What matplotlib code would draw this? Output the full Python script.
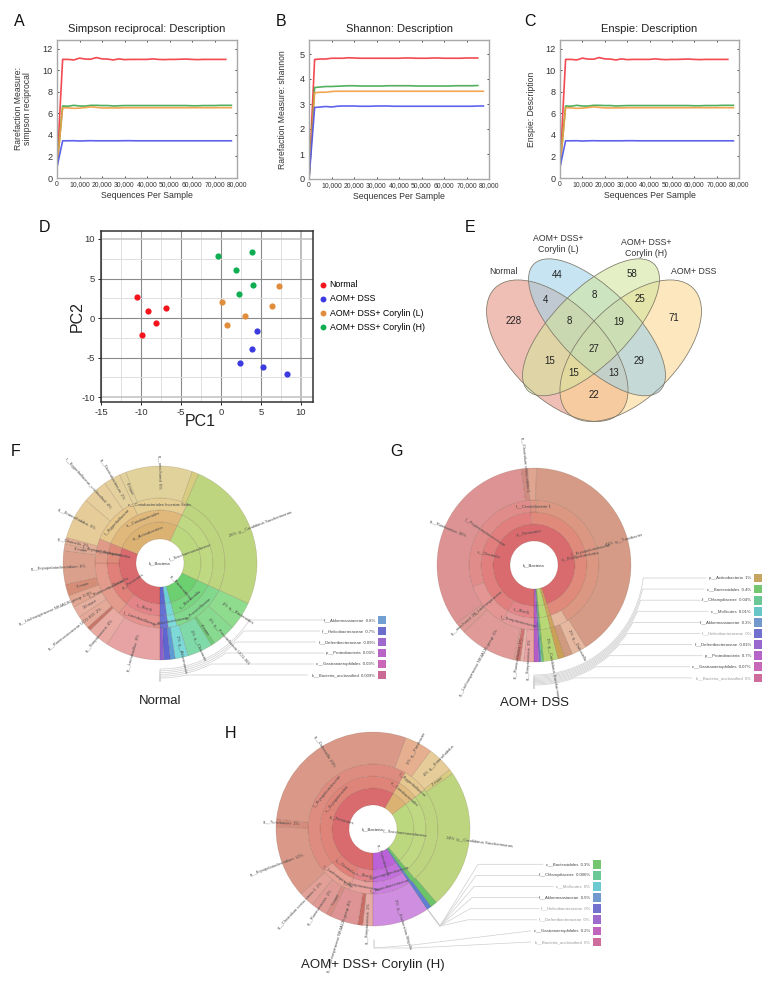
import numpy as np
import matplotlib
matplotlib.use('Agg')
import matplotlib.pyplot as plt
from matplotlib.patches import Ellipse, Rectangle

plt.rcParams['font.family'] = ['Liberation Sans', 'DejaVu Sans']
plt.rcParams['axes.unicode_minus'] = False

W, H = 778, 981

# Rarefaction curves (panels A, B, C)
DEPTH = [0, 2500, 5000, 7500, 10000, 12500, 15000, 17500, 20000, 22500, 25000, 27500, 30000, 32500, 35000, 37500,
         40000, 42500, 45000, 47500, 50000, 52500, 55000, 57500, 60000, 62500, 65000, 67500, 70000, 72500, 75000, 77500]
SIMPSON_NORMAL = [1.0, 11.0, 11.0, 10.95, 11.12, 11.03, 11.02, 11.17, 11.05, 11.03, 10.95, 11.05, 10.98, 11.0, 11.0, 11.0,
                  11.0, 11.05, 11.0, 10.98, 11.0, 11.0, 11.02, 11.03, 11.0, 10.98, 11.0, 11.0, 11.0, 11.0, 11.0]
SIMPSON_COR_H = [1.0, 6.68, 6.66, 6.74, 6.68, 6.67, 6.74, 6.74, 6.72, 6.72, 6.68, 6.7, 6.72, 6.72, 6.72, 6.72,
                 6.72, 6.72, 6.72, 6.72, 6.72, 6.72, 6.72, 6.72, 6.7, 6.7, 6.72, 6.72, 6.72, 6.74, 6.74, 6.74]
SIMPSON_COR_L = [1.0, 6.52, 6.5, 6.46, 6.48, 6.53, 6.6, 6.55, 6.5, 6.5, 6.5, 6.5, 6.52, 6.52, 6.52, 6.52,
                 6.52, 6.52, 6.52, 6.52, 6.52, 6.52, 6.52, 6.52, 6.52, 6.52, 6.52, 6.52, 6.52, 6.52, 6.52, 6.52]
SIMPSON_DSS = [1.0, 3.45, 3.45, 3.46, 3.43, 3.45, 3.46, 3.45, 3.45, 3.45, 3.45, 3.45, 3.46, 3.46, 3.45, 3.45,
               3.45, 3.45, 3.45, 3.45, 3.45, 3.45, 3.45, 3.45, 3.45, 3.45, 3.45, 3.45, 3.45, 3.45, 3.45, 3.45]
SHANNON_NORMAL = [0.0, 4.78, 4.8, 4.8, 4.83, 4.83, 4.83, 4.85, 4.84, 4.83, 4.83, 4.83, 4.83, 4.83, 4.83, 4.83,
                  4.83, 4.84, 4.84, 4.83, 4.83, 4.83, 4.84, 4.84, 4.83, 4.83, 4.83, 4.83, 4.84, 4.84, 4.84]
SHANNON_COR_H = [0.0, 3.66, 3.68, 3.7, 3.7, 3.71, 3.72, 3.73, 3.73, 3.72, 3.72, 3.72, 3.72, 3.72, 3.73, 3.73,
                 3.73, 3.73, 3.73, 3.72, 3.72, 3.72, 3.72, 3.72, 3.72, 3.72, 3.73, 3.73, 3.73, 3.73, 3.74]
SHANNON_COR_L = [0.0, 3.45, 3.47, 3.47, 3.5, 3.51, 3.51, 3.51, 3.51, 3.51, 3.51, 3.51, 3.51, 3.51, 3.51, 3.51,
                 3.51, 3.51, 3.51, 3.51, 3.51, 3.51, 3.51, 3.51, 3.51, 3.51, 3.51, 3.51, 3.51, 3.51, 3.51, 3.51]
SHANNON_DSS = [0.0, 2.86, 2.88, 2.9, 2.88, 2.91, 2.92, 2.92, 2.92, 2.91, 2.91, 2.91, 2.92, 2.92, 2.92, 2.91,
               2.91, 2.91, 2.91, 2.91, 2.91, 2.91, 2.91, 2.91, 2.91, 2.91, 2.91, 2.91, 2.91, 2.91, 2.92, 2.92]
# panel C reads the same as panel A
ENSPIE_NORMAL = SIMPSON_NORMAL
ENSPIE_COR_H = SIMPSON_COR_H
ENSPIE_COR_L = SIMPSON_COR_L
ENSPIE_DSS = SIMPSON_DSS

LINE_COLORS = ['#f2363e', '#3fa64c', '#f09c3e', '#4c52ea']

# PCA (panel D)
GROUPS = ['Normal', 'AOM+ DSS', 'AOM+ DSS+ Corylin (L)', 'AOM+ DSS+ Corylin (H)']
GROUP_COLORS = ['#f5141c', '#3b3be0', '#e08d3e', '#0fae52']
PC1 = [[-10.46, -9.16, -6.82, -8.16, -9.83],
       [4.48, 3.85, 2.43, 5.19, 8.24],
       [7.2, 6.32, 0.13, 3.05, 0.79],
       [3.89, -0.38, 1.88, 3.97, 2.22]]
PC2 = [[2.69, 0.92, 1.3, -0.63, -2.1],
       [-1.64, -3.9, -5.71, -6.13, -7.1],
       [4.08, 1.47, 1.97, 0.29, -0.92],
       [8.4, 7.86, 6.09, 4.12, 3.03]]

# Venn counts (panel E)
VENN_COUNTS = [228, 44, 58, 71, 4, 8, 25, 8, 19, 15, 27, 29, 15, 13, 22]
VENN_XY = [(514, 321), (557, 275), (632, 274), (674, 318), (546, 300), (594, 295), (640, 299), (569, 321),
           (619, 322), (550, 361), (594, 349), (639, 361), (574, 373), (614, 373), (594, 395)]

# Krona F (shares in % of the circle, clockwise from 6 o'clock)
F_GENUS = ['g__Lactobacillus  9%', 'g__Streptococcus  4%', '', 'g__Ruminococcaceae UCG-013  2%', '10 more',
           'g__Lachnospiraceae NK4A136 group  0.9%', '3 more', 'g__Erysipelatoclostridium  6%', '8 more',
           'g__Olsenella  2%', 'g__Enterorhabdus  6%', 'f__Eggerthellaceae_unclassified  4%',
           'g__Denitrobacterium  2%', '4 more', 'g__uncultured  6%', '', '26%  g__Candidatus Saccharimonas',
           '4%  g__Bacteroides', '3%  g__Prevotellaceae UCG-001', '4 more', '3%  g__Chaoacter',
           '2%  g__Akkermansia', '', '', '']
F_GENUS_SHARE = [9.2, 3.6, 0.6, 2.2, 1.9, 2.0, 1.9, 5.6, 1.1, 1.1, 6.9, 4.2, 2.8, 1.1, 11.1, 1.1, 25.3, 4.7, 3.9,
                 0.6, 4.2, 2.2, 0.8, 1.1, 0.6]
F_GENUS_COLOR = ['#e7a3a3', '#e8aaa2', '#c9776b', '#e5a99a', '#e6ae9f', '#e2a692', '#d48d77', '#dba08c', '#e0a995',
                 '#e3ae96', '#e6cc98', '#e6cf9c', '#e4d09c', '#e2d19c', '#e0d29a', '#d8cc80', '#bdd57f', '#8fdc8e',
                 '#88da90', '#6ecb78', '#80d9a8', '#7dd8d8', '#5e9cd6', '#5f66d0', '#8f60cc']
F_RING1 = ['p__Firmicutes', 'p__Actinobacteria', 'f__Saccharimonadaceae', 'p__Bacteroidetes', '', '']
F_RING1_SHARE = [31.1, 25.8, 25.0, 13.9, 2.2, 2.0]
F_RING1_COLOR = ['#d96a6e', '#dcb273', '#bcd87e', '#6ccf70', '#6dd0d4', '#5c68cf']
F_RING2 = ['c__Bacilli', 'c__Clostridia', 'c__Erysipelotrichia', 'o__Coriobacteriales', '', 'c__Bacteroidia', '', '']
F_RING2_SHARE = [11.0, 14.0, 6.1, 25.8, 25.0, 13.9, 2.2, 2.0]
F_RING2_COLOR = ['#e38588', '#e08078', '#de8a78', '#e0b87c', '#bfd983', '#78d580', '#78d6d8', '#6470d2']
F_RING3 = ['f__Lactobacillaceae', 'f__Ruminococcaceae', 'f__Erysipelotrichaceae', 'f__Eggerthellaceae',
           'c__Coriobacteriales Incertae Sedis', '', 'f__Prevotellaceae', 'f__Akkermansiaceae', '']
F_RING3_SHARE = [11.0, 14.0, 6.1, 12.0, 13.8, 25.0, 13.9, 2.2, 2.0]
F_RING3_COLOR = ['#e6938f', '#e39b8b', '#e09a88', '#e6c78c', '#e4ce94', '#bdd57f', '#82d98e', '#7fdada', '#6a74d4']
F_LEGEND = ['f__Akkermansiaceae  0.8%', 'f__Helicobacteraceae  0.7%', 'f__Deferribacteraceae  0.09%',
            'p__Proteobacteria  0.03%', 'c__Gastranaerophilales  0.03%', 'k__Bacteria_unclassified  0.009%']
F_LEGEND_COLOR = ['#6a9bd1', '#6466cc', '#9a62cc', '#b65cc4', '#c75fb4', '#c9618f']

# Krona G
G_GENUS = ['g__Streptococcus  3%', '', 'g__Ruminococcus  1%', '', 'g__Lachnospiraceae NK4A136 group  3%',
           'g__uncultured  2%', 'g__Romboutsia  36%', 'g__Clostridium sensu stricto 1', '',
           '41%  g__Turicibacter', '2%  g__Dubosiella', '', '', '3%  g__Candidatus Saccharimonas', '', '', '', '']
G_GENUS_SHARE = [1.7, 0.6, 0.8, 0.3, 9.5, 1.9, 33.3, 1.1, 1.4, 40.8, 2.5, 1.4, 1.1, 2.4, 0.3, 0.2, 0.3, 0.8]
G_GENUS_COLOR = ['#e8a3a3', '#e9b3ad', '#cf7670', '#e2a09a', '#e09a98', '#dd9a94', '#dd9393', '#d08a80', '#e0a590',
                 '#d59b86', '#e6b8a0', '#cf9a80', '#c9a055', '#b5d672', '#6cc468', '#62c4c4', '#6a6acc', '#b45cc9']
G_RING1 = ['p__Firmicutes', '', '', '', '', '', '']
G_RING1_SHARE = [95.3, 1.1, 2.4, 0.3, 0.2, 0.3, 0.8]
G_RING1_COLOR = ['#d96a6e', '#c9a055', '#b5d672', '#6cc468', '#62c4c4', '#6a6acc', '#b45cc9']
G_RING2 = ['c__Bacilli', 'c__Clostridia', 'o__Erysipelotrichales', '', '', '', '', '', '']
G_RING2_SHARE = [8.3, 41.0, 46.0, 1.1, 2.4, 0.3, 0.2, 0.3, 0.8]
G_RING2_COLOR = ['#e2868a', '#e07f7d', '#df8a7a', '#cca45c', '#b8d876', '#6cc468', '#62c4c4', '#6a6acc', '#b45cc9']
G_RING3 = ['f__Streptococcaceae', 'f__Lachnospiraceae', 'f__Peptostreptococcaceae', 'f__Clostridiaceae 1',
           'f__Erysipelotrichaceae', '', '', '', '', '', '', '']
G_RING3_SHARE = [8.3, 11.4, 29.6, 1.5, 41.0, 3.5, 1.1, 2.4, 0.3, 0.2, 0.3, 0.8]
G_RING3_COLOR = ['#e49a9a', '#e39694', '#e08c8a', '#dc9484', '#dc9782', '#e6b8a0', '#cca45c', '#b8d876', '#6cc468',
                 '#62c4c4', '#6a6acc', '#b45cc9']
G_LEGEND = ['p__Actinobacteria  1%', 'c__Bacteroidales  0.4%', 'f__Chlamydiaceae  0.04%', 'c__Mollicutes  0.01%',
            'f__Akkermansiaceae  0.3%', 'f__Helicobacteraceae  0%', 'f__Deferribacteraceae  0.01%',
            'p__Proteobacteria  0.7%', 'c__Gastranaerophilales  0.07%', 'k__Bacteria_unclassified  0%']
G_LEGEND_COLOR = ['#c4a058', '#6cc468', '#62c490', '#62c4c4', '#6a94cc', '#6a6acc', '#9460cc', '#b25cc8', '#c460b4',
                  '#cc6498']

# Krona H
H_GENUS = ['g__Streptococcus  1%', '', 'g__Lachnospiraceae NK4A136 group  4%', '7 more', 'g__Ruminococcus  2%',
           'g__Clostridium sensu stricto 1  2%', 'g__Erysipelatoclostridium  12%', 'g__Turicibacter  1%',
           'g__Dubosiella  29%', '5%  g__Parvibacter', '4%  g__Enterorhabdus', '2 more',
           '24%  g__Candidatus Saccharimonas', '', '', '9%  g__Escherichia-Shigella']
H_GENUS_SHARE = [1.7, 0.8, 4.7, 0.8, 2.8, 2.5, 11.9, 1.4, 28.8, 4.6, 4.4, 0.8, 23.3, 1.1, 0.8, 9.4]
H_GENUS_COLOR = ['#e6aca6', '#c96e66', '#de9494', '#d88c84', '#df9a96', '#e2a098', '#d99888', '#d48c7c', '#d99888',
                 '#e6b090', '#e6cc98', '#d8cc80', '#bdd57f', '#6cc468', '#5f7fd0', '#d08ee0']
H_RING1 = ['p__Firmicutes', '', 'f__Saccharimonadaceae', '', '', 'p__Proteobacteria']
H_RING1_SHARE = [58.3, 6.4, 24.2, 1.1, 0.6, 9.4]
H_RING1_COLOR = ['#d96a6e', '#dcb273', '#bcd87e', '#6cc468', '#5f7fd0', '#bb62d8']
H_RING2 = ['c__Bacilli', 'c__Clostridia', 'c__Erysipelotrichia', 'o__Coriobacteriales', '', '', '', 'c__Gammaproteobacteria']
H_RING2_SHARE = [6.0, 8.0, 44.3, 6.4, 24.2, 1.1, 0.6, 9.4]
H_RING2_COLOR = ['#e38588', '#e08078', '#df8478', '#e2bb80', '#bfd983', '#6cc468', '#5f7fd0', '#c470dc']
H_RING3 = ['f__Streptococcaceae', 'f__Lachnospiraceae', 'f__Erysipelotrichaceae', 'f__Eggerthellaceae', '', '', '',
           'f__Enterobacteriaceae']
H_RING3_SHARE = [6.0, 8.0, 44.3, 6.4, 24.2, 1.1, 0.6, 9.4]
H_RING3_COLOR = ['#e8a09c', '#e6a094', '#df8c80', '#e6c890', '#bdd57f', '#6cc468', '#5f7fd0', '#cc80e0']
H_LEGEND = ['c__Bacteroidales  0.3%', 'f__Chlamydiaceae  0.006%', 'c__Mollicutes  0%', 'f__Akkermansiaceae  0.5%',
            'f__Helicobacteraceae  0%', 'f__Deferribacteraceae  0%', 'c__Gastranaerophilales  0.2%',
            'k__Bacteria_unclassified  0%']
H_LEGEND_COLOR = ['#6cc468', '#62c490', '#66c8d0', '#6a94cc', '#6a6acc', '#9a62cc', '#be5cb8', '#cc6498']

KRONA_RADII = [24, 41, 53, 65, 97]


def Y(py):
    return H - py


def axes_px(x0, y0, x1, y1):
    # pixel box, y measured from the top of the image
    return fig.add_axes([x0 / W, 1 - y1 / H, (x1 - x0) / W, (y1 - y0) / H])


def rarefaction(box, title, ylabel, label_x, ymax, yticks, series):
    ax = axes_px(*box)
    for (values, color) in zip(series, LINE_COLORS):
        ax.plot(DEPTH[:len(values)], values, color=color, lw=1.2, alpha=0.9, solid_joinstyle='round')
    ax.set_xlim(0, 80000)
    ax.set_ylim(0, ymax)
    ax.set_xticks(range(0, 80001, 10000))
    ax.set_xticklabels(['0'] + [f'{v:,}' for v in range(10000, 80001, 10000)], fontsize=4.9, color='#333333')
    ax.set_yticks(yticks)
    ax.tick_params(axis='y', labelsize=6.6, labelcolor='#333333', length=1.5, width=0.5, direction='in', right=True, pad=3)
    ax.tick_params(axis='x', length=1.5, width=0.5, direction='in', top=True, pad=2.5)
    for s in ax.spines.values():
        s.set_color('#a8a8a8')
        s.set_linewidth(1.0)
    ax.set_title(title, fontsize=8, color='#222222', pad=5.5)
    ax.set_xlabel('Sequences Per Sample', fontsize=6.3, color='#333333', labelpad=2)
    ax.set_ylabel(ylabel, fontsize=6.2, color='#333333', linespacing=1.05)
    ax.yaxis.set_label_coords((label_x - box[0]) / (box[2] - box[0]), 0.5)
    return ax


def ring_text(cx, cy, r, theta, s, color='#4a4a4a', size=3.0, ha=None, tangent=False):
    # theta is clockwise from 6 o'clock, degrees
    a = np.radians(270 - theta)
    x, y = cx + r * np.cos(a), Y(cy) + r * np.sin(a)
    deg = np.degrees(a)
    if tangent:
        rot = deg - 90
        if np.sin(a) < 0:
            rot += 180
        align = 'center'
    elif np.cos(a) < 1e-6:
        rot = deg - 180
        align = 'right'
    else:
        rot = deg
        align = 'left'
    if ha:
        align = ha
    ov.text(x, y, s, rotation=rot, rotation_mode='anchor', ha=align, va='center', fontsize=size, color=color)


def krona(cx, cy, rings, genus):
    # rings from the centre outwards, each (names, shares, colors)
    all_rings = rings + [genus]
    for i, (names, shares, colors) in enumerate(all_rings):
        r0, r1 = KRONA_RADII[i], KRONA_RADII[i + 1]
        ov.pie(shares, colors=colors, radius=r1, center=(cx, Y(cy)), startangle=270, counterclock=False, frame=True,
               wedgeprops=dict(width=r1 - r0, edgecolor=(0.3, 0.2, 0.1, 0.22), linewidth=0.4))
        angles = np.cumsum([0] + list(shares)) / sum(shares) * 360
        for name, t0, t1 in zip(names, angles[:-1], angles[1:]):
            if not name:
                continue
            mid = (t0 + t1) / 2
            if i == len(all_rings) - 1:
                ring_text(cx, cy, 74, mid, name)
            else:
                top = 125 < mid < 240
                bottom = i > 0 and (mid < 50 or mid > 310)
                ring_text(cx, cy, (r0 + r1) / 2, mid, name, ha='center', tangent=top or bottom)
    ov.text(cx, Y(cy), 'k__Bacteria', fontsize=3, color='#333333', ha='center', va='center')


def krona_legend(cx, cy, names, colors, swatch_x, first_y, step, r0, r1, elbow=None):
    rows = [first_y + i * step for i in range(len(names))]
    for i, (name, color, y) in enumerate(zip(names, colors, rows)):
        ov.add_patch(Rectangle((swatch_x, Y(y + 4.3)), 8.5, 8.6, fc=color, ec='none', alpha=0.95))
        tcolor = '#999999' if name.endswith(' 0%') else '#444444'
        ov.text(swatch_x - 3, Y(y), name, fontsize=3.1, color=tcolor, ha='right', va='center')
        xend = swatch_x - 5 - 2.05 * len(name)
        r = r0 + (r1 - r0) * i / max(len(names) - 1, 1)
        if elbow is not None:
            # panel H: the leaders fold back to the lower right of the ring
            xs = [xend, elbow[0] - i * 2.0 if i < 6 else elbow[2], elbow[1][0], elbow[1][1]] if i < 6 else \
                 [xend, 413, 374, 374]
            ys = [y, y, elbow[1][2], elbow[1][3]] if i < 6 else [y, 945 if i == 6 else 948, 948, 940]
            ov.plot(xs, [Y(v) for v in ys], color='#cfcfcf', lw=0.5)
            continue
        dy = y - cy
        start = np.arcsin(min(dy / r, 1.0))
        arc = np.linspace(start, np.pi / 2, 40)
        xs = np.r_[xend, cx + r * np.cos(arc), cx]
        ys = np.r_[y, cy + r * np.sin(arc), cy + r1 + 3]
        ov.plot(xs, [Y(v) for v in ys], color='#d2d2d2', lw=0.55)


fig = plt.figure(figsize=(W / 100, H / 100), dpi=100)
ov = fig.add_axes([0, 0, 1, 1], zorder=0)
ov.patch.set_alpha(0)

# top row
rarefaction((57, 40, 237, 178), 'Simpson reciprocal: Description', 'Rarefaction Measure:\nsimpson reciprocal', 32, 12.8,
            range(0, 13, 2), [SIMPSON_NORMAL, SIMPSON_COR_H, SIMPSON_COR_L, SIMPSON_DSS])
rarefaction((309, 40, 489, 179), 'Shannon: Description', 'Rarefaction Measure: shannon', 287, 5.56,
            range(0, 6), [SHANNON_NORMAL, SHANNON_COR_H, SHANNON_COR_L, SHANNON_DSS])
rarefaction((560, 40, 739, 178), 'Enspie: Description', 'Enspie: Description', 536, 12.8,
            range(0, 13, 2), [ENSPIE_NORMAL, ENSPIE_COR_H, ENSPIE_COR_L, ENSPIE_DSS])

# PCA
ax_d = axes_px(101, 231, 313, 402)
for xs, ys, color, name in zip(PC1, PC2, GROUP_COLORS, GROUPS):
    ax_d.scatter(xs, ys, s=20, color=color, label=name, zorder=3, linewidths=0)
ax_d.set_xlim(-15, 11.5)
ax_d.set_ylim(-10.6, 11)
ax_d.set_xticks(range(-15, 11, 5))
ax_d.set_yticks(range(-10, 11, 5))
ax_d.set_xticks(np.arange(-12.5, 11, 5), minor=True)
ax_d.set_yticks(np.arange(-7.5, 11, 5), minor=True)
ax_d.grid(which='major', color='#8a8a8a', lw=0.8)
ax_d.grid(which='minor', color='#dedede', lw=0.7)
ax_d.set_axisbelow(True)
for gl, v in zip(ax_d.get_xgridlines(), range(-15, 11, 5)):
    if v == 10:
        gl.set_color('#bdbdbd')
        gl.set_linewidth(1.4)
for gl, v in zip(ax_d.get_ygridlines(), range(-10, 11, 5)):
    if abs(v) == 10:
        gl.set_color('#c4c4c4')
        gl.set_linewidth(1.2)
ax_d.tick_params(which='major', labelsize=6.8, labelcolor='#333333', length=2.5, width=0.6, pad=2)
ax_d.tick_params(which='minor', length=0)
for s in ax_d.spines.values():
    s.set_color('#333333')
    s.set_linewidth(1.1)
ax_d.set_xlabel('PC1', fontsize=11.5, color='#222222')
ax_d.set_ylabel('PC2', fontsize=11.5, color='#222222')
ax_d.xaxis.set_label_coords((200 - 101) / 212, -(421.5 - 402) / 171, transform=ax_d.transAxes)
ax_d.yaxis.set_label_coords((77 - 101) / 212, 0.5)
ax_d.xaxis.label.set_va('center')
ax_d.yaxis.label.set_va('center')
ax_d.legend(loc='upper left', bbox_to_anchor=(314, Y(280)), bbox_transform=ov.transData, frameon=False, fontsize=6.3,
            labelspacing=0.6, handletextpad=-0.2, borderpad=0, borderaxespad=0, markerscale=0.95)

# Venn
venn_sets = [((557.3, Y(350.7)), 176.7, 94, -45, '#e58f80'), ((630.7, Y(350.7)), 176.7, 94, 45, '#fcd690'),
             ((597, Y(327.3)), 178.7, 74.7, -45, '#9ed2e8'), ((591, Y(327.3)), 178.7, 74.7, 45, '#d2e49c')]
for xy, w, h, ang, color in venn_sets:
    ov.add_patch(Ellipse(xy, w, h, angle=ang, fc=color, ec='none', alpha=0.58))
for xy, w, h, ang, color in venn_sets:
    ov.add_patch(Ellipse(xy, w, h, angle=ang, fc='none', ec='#7d7868', lw=0.55))
for n, (x, y) in zip(VENN_COUNTS, VENN_XY):
    ov.text(x, Y(y), str(n), fontsize=7, color='#222222', ha='center', va='center')
for s, x, y in [('Normal', 503, 272), ('AOM+ DSS+\nCorylin (L)', 558, 244), ('AOM+ DSS+\nCorylin (H)', 646, 248),
                ('AOM+ DSS', 694, 271)]:
    ov.text(x, Y(y), s, fontsize=6.3, color='#333333', ha='center', va='center', linespacing=1.15)

# Krona charts
krona(160, 563, [(F_RING1, F_RING1_SHARE, F_RING1_COLOR), (F_RING2, F_RING2_SHARE, F_RING2_COLOR),
                 (F_RING3, F_RING3_SHARE, F_RING3_COLOR)], (F_GENUS, F_GENUS_SHARE, F_GENUS_COLOR))
krona_legend(160, 563, F_LEGEND, F_LEGEND_COLOR, 378, 620, 11, 106, 115)
krona(534, 565, [(G_RING1, G_RING1_SHARE, G_RING1_COLOR), (G_RING2, G_RING2_SHARE, G_RING2_COLOR),
                 (G_RING3, G_RING3_SHARE, G_RING3_COLOR)], (G_GENUS, G_GENUS_SHARE, G_GENUS_COLOR))
krona_legend(534, 565, G_LEGEND, G_LEGEND_COLOR, 754, 578, 11.1, 110, 120)
krona(373, 829, [(H_RING1, H_RING1_SHARE, H_RING1_COLOR), (H_RING2, H_RING2_SHARE, H_RING2_COLOR),
                 (H_RING3, H_RING3_SHARE, H_RING3_COLOR)], (H_GENUS, H_GENUS_SHARE, H_GENUS_COLOR))
krona_legend(373, 829, H_LEGEND, H_LEGEND_COLOR, 593, 864.3, 11.1, 110, 120,
             elbow=(478, (440, 428, 926, 910), 374))

ov.set_xlim(0, W)
ov.set_ylim(0, H)
ov.set_aspect('auto')
ov.axis('off')

for s, x, y, size in [('Normal', 160, 701, 9.5), ('AOM+ DSS', 535, 703, 9.5), ('AOM+ DSS+ Corylin (H)', 373, 965, 9.5)]:
    ov.text(x, Y(y), s, fontsize=size, color='#222222', ha='center', va='center')
for s, x, y in [('A', 19, 22), ('B', 281, 21), ('C', 530, 21), ('D', 45, 228), ('E', 470, 228), ('F', 16, 451),
                ('G', 397, 451), ('H', 231, 733)]:
    ov.text(x, Y(y), s, fontsize=11.5, color='#111111', ha='center', va='center')

fig.savefig('out.png', dpi=100)
